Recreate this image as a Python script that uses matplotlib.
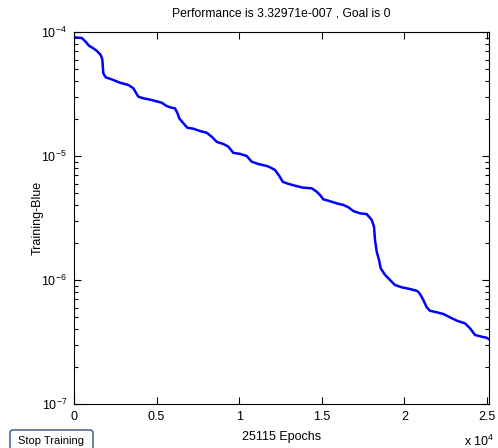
import matplotlib
matplotlib.use("Agg")
import matplotlib.pyplot as plt
from matplotlib.patches import FancyBboxPatch
import numpy as np

plt.rcParams['font.family'] = ['Liberation Sans', 'DejaVu Sans']
plt.rcParams['mathtext.fontset'] = 'custom'
plt.rcParams['mathtext.rm'] = 'Liberation Sans'
plt.rcParams['mathtext.it'] = 'Liberation Sans'
plt.rcParams['axes.unicode_minus'] = False

# training record
epochs = [0, 466, 666, 908, 1168, 1374, 1616, 1713, 1773, 1918, 2282, 2784, 3286,
          3589, 3891, 4194, 4702, 4902, 5308, 5610, 5810, 6113, 6252, 6373, 6615,
          6857, 7220, 7626, 8031, 8334, 8636, 9036, 9338, 9641, 10046, 10452, 10754,
          11154, 11662, 11862, 12165, 12425, 12631, 12873, 13375, 13877, 14386,
          14688, 14888, 15088, 15390, 15899, 16298, 16601, 16903, 17309, 17714,
          18017, 18156, 18217, 18320, 18459, 18562, 18822, 19124, 19427, 19833,
          20335, 20777, 20940, 21140, 21346, 21545, 21951, 22350, 22756, 23161,
          23664, 23966, 24269, 24674, 24977, 25115]
perf = [9.06e-5, 8.95e-5, 8.46e-5, 7.75e-5, 7.39e-5, 7.06e-5, 6.53e-5, 6.02e-5,
        4.64e-5, 4.31e-5, 4.15e-5, 3.90e-5, 3.74e-5, 3.52e-5, 3.01e-5, 2.92e-5,
        2.83e-5, 2.78e-5, 2.69e-5, 2.53e-5, 2.47e-5, 2.42e-5, 2.23e-5, 2.01e-5,
        1.84e-5, 1.69e-5, 1.66e-5, 1.59e-5, 1.54e-5, 1.43e-5, 1.30e-5, 1.25e-5,
        1.19e-5, 1.06e-5, 1.04e-5, 1.00e-5, 8.99e-6, 8.62e-6, 8.31e-6, 8.11e-6,
        7.71e-6, 6.90e-6, 6.20e-6, 6.02e-6, 5.76e-6, 5.55e-6, 5.49e-6, 5.15e-6,
        4.85e-6, 4.47e-6, 4.36e-6, 4.15e-6, 4.03e-6, 3.86e-6, 3.60e-6, 3.45e-6,
        3.40e-6, 3.05e-6, 2.69e-6, 2.10e-6, 1.69e-6, 1.45e-6, 1.24e-6, 1.10e-6,
        1.00e-6, 9.11e-7, 8.73e-7, 8.46e-7, 8.15e-7, 7.71e-7, 6.90e-7, 6.02e-7,
        5.65e-7, 5.49e-7, 5.32e-7, 5.00e-7, 4.70e-7, 4.47e-7, 4.08e-7, 3.60e-7,
        3.49e-7, 3.42e-7, 3.33e-7]

xtick_vals = [0, 5000, 10000, 15000, 20000, 25000]
xtick_labels = ["0", "0.5", "1", "1.5", "2", "2.5"]

fig = plt.figure(figsize=(4.98, 4.48), dpi=100)
ax = fig.add_axes([74 / 498, 44 / 448, 415 / 498, 372 / 448])

ax.semilogy(epochs, perf, color=(0, 0, 1), linewidth=1.8)
ax.set_xlim(0, 25115)
ax.set_ylim(1e-7, 1e-4)
ax.set_xticks(xtick_vals)
ax.set_xticklabels(xtick_labels)

ax.tick_params(which='both', direction='in', top=True, right=True, labelsize=9, pad=5)
ax.tick_params(which='major', length=5, width=0.8)
ax.tick_params(which='minor', length=3, width=0.8)
ax.tick_params(axis='x', which='minor', top=False, bottom=False)
for s in ax.spines.values():
    s.set_linewidth(0.8)

ax.set_title("Performance is 3.32971e-007 , Goal is 0", fontsize=8.7, pad=11)
ax.set_xlabel("25115 Epochs", fontsize=9, labelpad=6)
ax.set_ylabel("Training-Blue", fontsize=9, labelpad=-2)

# MATLAB style axis exponent under the right end
fig.text(479 / 498, 1 - 441 / 448, r"x 10$^{4}$", fontsize=9, ha='center', va='center')

# "Stop Training" button
btn = FancyBboxPatch((10 / 498, -3 / 448), 83 / 498, 21 / 448,
                     boxstyle="round,pad=0,rounding_size=0.006",
                     transform=fig.transFigure, facecolor='white',
                     edgecolor='#2c4f8c', linewidth=1.0)
fig.patches.append(btn)
fig.text(51 / 498, 1 - 441 / 448, "Stop Training", fontsize=8, ha='center', va='center')

fig.savefig("out.png", dpi=100)
